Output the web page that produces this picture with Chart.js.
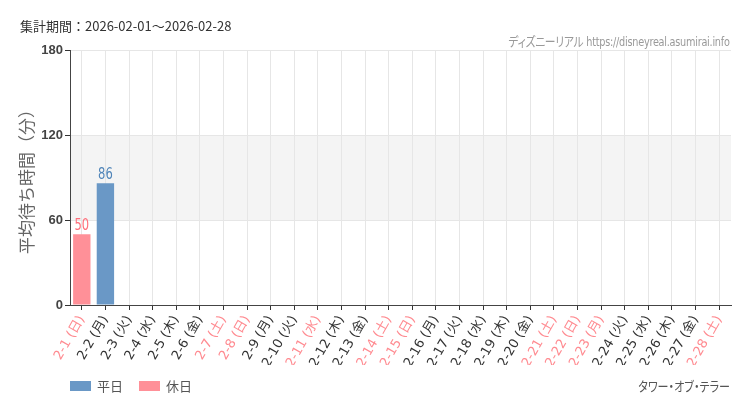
<!DOCTYPE html>
<html><head><meta charset="utf-8">
<script src="https://cdn.jsdelivr.net/npm/chart.js@4/dist/chart.umd.min.js"></script>
<style>
html,body{margin:0;padding:0;background:#fff;}
#wrap{position:relative;width:750px;height:410px;}
canvas{position:absolute;left:0;top:0;}
.t{position:absolute;white-space:nowrap;}
#period{left:20px;top:16px;font:13px "Noto Sans CJK JP","Noto Sans",sans-serif;color:#333;}
#site{right:20px;top:31px;font:13px "DejaVu Sans Condensed","Noto Sans CJK JP",sans-serif;font-stretch:condensed;color:#999;font-feature-settings:"palt";letter-spacing:-0.3px;transform:scaleX(0.83);transform-origin:right center;}
#attr{right:20px;top:376px;font:13px "Noto Sans CJK JP",sans-serif;color:#555;font-feature-settings:"palt";transform:scaleX(0.85);transform-origin:right center;}
#legend{left:70px;top:376px;font:13px "Noto Sans CJK JP",sans-serif;color:#555;display:flex;align-items:center;}
.box{display:inline-block;width:21px;height:10px;margin-right:6px;}
</style></head>
<body><div id="wrap">
<canvas id="c" width="750" height="410"></canvas>
<div class="t" id="period">集計期間：2026-02-01～2026-02-28</div>
<div class="t" id="site">ディズニーリアル https://disneyreal.asumirai.info</div>
<div class="t" id="legend"><span class="box" style="background:#6a98c6"></span><span style="margin-right:16px">平日</span><span class="box" style="background:#ff9098"></span><span>休日</span></div>
<div class="t" id="attr">タワー・オブ・テラー</div>
</div>
<script>
const labels = ["2-1 (日)","2-2 (月)","2-3 (火)","2-4 (水)","2-5 (木)","2-6 (金)","2-7 (土)","2-8 (日)","2-9 (月)","2-10 (火)","2-11 (水)","2-12 (木)","2-13 (金)","2-14 (土)","2-15 (日)","2-16 (月)","2-17 (火)","2-18 (水)","2-19 (木)","2-20 (金)","2-21 (土)","2-22 (日)","2-23 (月)","2-24 (火)","2-25 (水)","2-26 (木)","2-27 (金)","2-28 (土)"];
const holidays = [true,false,false,false,false,false,true,true,false,false,true,false,false,true,true,false,false,false,false,false,true,true,true,false,false,false,false,true];
const weekdayValues = [null,86,null,null,null,null,null,null,null,null,null,null,null,null,null,null,null,null,null,null,null,null,null,null,null,null,null,null];
const holidayValues = [50,null,null,null,null,null,null,null,null,null,null,null,null,null,null,null,null,null,null,null,null,null,null,null,null,null,null,null];
const yTicks = [0,60,120,180];

const bandPlugin = {
  id:'band',
  beforeDraw(chart){
    const {ctx, chartArea:a, scales:{y}} = chart;
    ctx.save();
    ctx.fillStyle = '#f4f4f4';
    const y1 = y.getPixelForValue(120), y0 = y.getPixelForValue(60);
    ctx.fillRect(a.left, y1, a.right-a.left, y0-y1);
    ctx.restore();
  }
};
const labelPlugin = {
  id:'vlabels',
  afterDatasetsDraw(chart){
    const ctx = chart.ctx;
    ctx.save();
    ctx.font = '16px "DejaVu Sans Condensed", sans-serif';
    ctx.textAlign = 'center';
    ctx.textBaseline = 'bottom';
    chart.data.datasets.forEach((ds,i)=>{
      const meta = chart.getDatasetMeta(i);
      meta.data.forEach((el,j)=>{
        const v = ds.data[j];
        if(v==null) return;
        ctx.fillStyle = ds.labelColor;
        ctx.save();
        ctx.translate(el.x, el.y);
        ctx.scale(0.8,1);
        ctx.fillText(String(v), 0, 0);
        ctx.restore();
      });
    });
    ctx.restore();
  }
};

new Chart(document.getElementById('c'), {
  type:'bar',
  data:{
    labels: labels,
    datasets:[
      {label:'平日', data: weekdayValues, backgroundColor:'#6a98c6', labelColor:'#4f84b8', barPercentage:0.92, categoryPercentage:0.8},
      {label:'休日', data: holidayValues, backgroundColor:'#ff9098', labelColor:'#ff6f7b', barPercentage:0.92, categoryPercentage:0.8}
    ]
  },
  plugins:[bandPlugin, labelPlugin],
  options:{
    responsive:false,
    animation:false,
    layout:{padding:{top:50, left:16, right:19, bottom:45}},
    plugins:{legend:{display:false}, tooltip:{enabled:false}},
    scales:{
      x:{
        stacked:true,
        grid:{offset:false, color:'#e6e6e6', tickColor:'#333', tickLength:5, drawTicks:true},
        border:{color:'#444', width:1},
        ticks:{
          minRotation:60, maxRotation:60, autoSkip:false,
          font:{size:13, family:'"DejaVu Sans", "Noto Sans CJK JP", sans-serif'},
          color:(c)=> holidays[c.index] ? '#ff8a90' : '#333',
          padding:3
        },
        afterFit(s){ s.height = 60; }
      },
      y:{
        min:0, max:180,
        afterBuildTicks(s){ s.ticks = yTicks.map(v=>({value:v})); },
        grid:{color:'#e6e6e6', tickColor:'#333', tickLength:5},
        border:{color:'#444', width:1},
        ticks:{font:{size:13, weight:'bold', family:'"Liberation Sans", sans-serif'}, color:'#444', padding:2},
        title:{display:true, text:'平均待ち時間（分）', color:'#666', font:{size:17, family:'"Noto Sans CJK JP", sans-serif'}, padding:{top:0,bottom:5}},
        afterFit(s){ s.width = 54; }
      }
    }
  }
});
</script>
</body></html>
